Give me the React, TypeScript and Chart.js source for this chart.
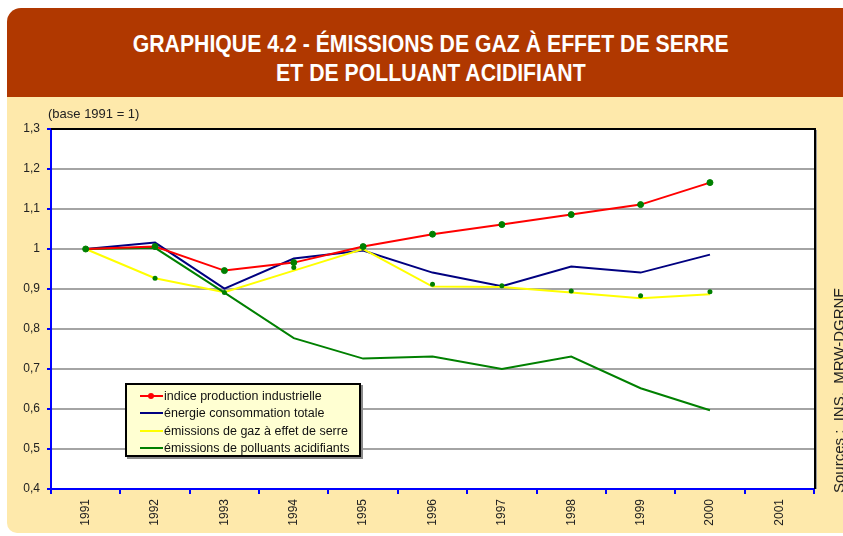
import React, { useEffect, useRef } from "react";
import { Chart, registerables } from "chart.js";

Chart.register(...registerables);

const years = ["1991", "1992", "1993", "1994", "1995", "1996", "1997", "1998", "1999", "2000", "2001"];
const indiceProduction = [1.0, 1.006, 0.946, 0.966, 1.006, 1.037, 1.061, 1.086, 1.111, 1.166, null];
const energieConsommation = [1.0, 1.016, 0.901, 0.976, 0.996, 0.941, 0.907, 0.956, 0.941, 0.986, null];
const emissionsGaz = [1.0, 0.927, 0.892, 0.946, 1.0, 0.906, 0.905, 0.891, 0.877, 0.887, null];
const emissionsPolluants = [1.0, 1.003, 0.891, 0.777, 0.726, 0.731, 0.7, 0.731, 0.652, 0.597, null];
const marqueursGaz = [null, 0.927, 0.891, 0.954, null, 0.912, 0.908, 0.895, 0.883, 0.893, null];
const yTicks = [0.4, 0.5, 0.6, 0.7, 0.8, 0.9, 1.0, 1.1, 1.2, 1.3];

const legendItems = [
  { label: "indice production industrielle", color: "#FF0000", dot: "#FF0000" },
  { label: "énergie consommation totale", color: "#000080", dot: null },
  { label: "émissions de gaz à effet de serre", color: "#FFFF00", dot: null },
  { label: "émissions de polluants acidifiants", color: "#008000", dot: null },
];

const fmt = (v: number) => String(Number(v.toFixed(1))).replace(".", ",");

export default function App() {
  const ref = useRef<HTMLCanvasElement | null>(null);

  useEffect(() => {
    if (!ref.current) return;
    const plotFrame = {
      id: "plotFrame",
      beforeDraw(chart: any) {
        const { ctx, chartArea: a } = chart;
        ctx.save();
        ctx.fillStyle = "#FFFFFF";
        ctx.fillRect(a.left, a.top, a.right - a.left, a.bottom - a.top);
        ctx.restore();
      },
      afterDraw(chart: any) {
        const { ctx, chartArea: a } = chart;
        ctx.save();
        ctx.strokeStyle = "#9a9a9a";
        ctx.lineWidth = 1;
        ctx.beginPath();
        ctx.moveTo(a.right + 2.5, a.top + 1);
        ctx.lineTo(a.right + 2.5, a.bottom);
        ctx.stroke();
        ctx.strokeStyle = "#000000";
        ctx.lineWidth = 2;
        ctx.beginPath();
        ctx.moveTo(a.left, a.top);
        ctx.lineTo(a.right + 1, a.top);
        ctx.lineTo(a.right + 1, a.bottom);
        ctx.stroke();
        ctx.restore();
      },
    };

    const chart = new Chart(ref.current, {
      type: "line",
      data: {
        labels: years,
        datasets: [
          {
            label: "marqueurs",
            data: marqueursGaz,
            showLine: false,
            pointRadius: 2.5,
            pointBackgroundColor: "#008000",
            pointBorderColor: "#008000",
            borderWidth: 0,
            order: 0,
          },
          {
            label: "indice production industrielle",
            data: indiceProduction,
            borderColor: "#FF0000",
            borderWidth: 2,
            pointRadius: 3,
            pointBackgroundColor: "#008000",
            pointBorderColor: "#008000",
            pointBorderWidth: 1,
            order: 1,
          },
          {
            label: "énergie consommation totale",
            data: energieConsommation,
            borderColor: "#000080",
            borderWidth: 2,
            pointRadius: 0,
            order: 4,
          },
          {
            label: "émissions de gaz à effet de serre",
            data: emissionsGaz,
            borderColor: "#FFFF00",
            borderWidth: 2,
            pointRadius: 0,
            order: 3,
          },
          {
            label: "émissions de polluants acidifiants",
            data: emissionsPolluants,
            borderColor: "#008000",
            borderWidth: 2,
            pointRadius: 0,
            order: 2,
          },
        ],
      },
      options: {
        animation: false,
        responsive: true,
        maintainAspectRatio: false,
        layout: { padding: { top: 129, right: 29, bottom: 0, left: 0 } },
        plugins: { legend: { display: false }, tooltip: { enabled: false }, title: { display: false } },
        elements: { line: { tension: 0 } },
        scales: {
          x: {
            type: "category",
            offset: true,
            grid: {
              offset: true,
              drawOnChartArea: false,
              drawTicks: true,
              tickLength: 5,
              tickColor: "#0000FF",
              color: "#0000FF",
              lineWidth: 2,
            },
            border: { color: "#0000FF", width: 2 },
            ticks: {
              minRotation: 90,
              maxRotation: 90,
              padding: 5,
              color: "#222222",
              font: { family: '"Liberation Sans", Arial, sans-serif', size: 12 },
            },
            afterFit: (s: any) => {
              s.height = 47;
            },
          },
          y: {
            min: 0.4,
            max: 1.3,
            afterBuildTicks: (s: any) => {
              s.ticks = yTicks.map((v) => ({ value: v }));
            },
            grid: {
              color: "#a4a4a4",
              lineWidth: 2,
              drawTicks: true,
              tickLength: 4,
              tickColor: "#0000FF",
            },
            border: { color: "#0000FF", width: 2 },
            ticks: {
              padding: 7,
              color: "#222222",
              font: { family: '"Liberation Sans", Arial, sans-serif', size: 12 },
              callback: (v: any) => fmt(Number(v)),
            },
            afterFit: (s: any) => {
              s.width = 51;
            },
          },
        },
      },
      plugins: [plotFrame],
    });
    return () => chart.destroy();
  }, []);

  const titleLine: React.CSSProperties = {
    display: "inline-block",
    transform: "scaleX(0.885)",
    transformOrigin: "50% 50%",
  };

  return (
    <div
      style={{
        position: "absolute",
        left: 0,
        top: 0,
        width: 843,
        height: 536,
        overflow: "hidden",
        background: "#FFFFFF",
        fontFamily: '"Liberation Sans", Arial, sans-serif',
      }}
    >
      <div
        style={{
          position: "absolute",
          left: 7,
          top: 8,
          width: 836,
          height: 89,
          background: "#B03800",
          borderTopLeftRadius: 14,
        }}
      />
      <div
        style={{
          position: "absolute",
          left: 19,
          top: 29,
          width: 824,
          textAlign: "center",
          color: "#FFFFFF",
          fontFamily: '"Liberation Sans Narrow", "Arial Narrow", "Liberation Sans", sans-serif',
          fontWeight: 700,
          fontSize: 24,
          lineHeight: "29px",
          whiteSpace: "nowrap",
        }}
      >
        <div>
          <span style={titleLine}>GRAPHIQUE 4.2 - ÉMISSIONS DE GAZ À EFFET DE SERRE</span>
        </div>
        <div>
          <span style={titleLine}>ET DE POLLUANT ACIDIFIANT</span>
        </div>
      </div>
      <div
        style={{
          position: "absolute",
          left: 7,
          top: 97,
          width: 836,
          height: 436,
          background: "#FEE9AB",
          borderBottomLeftRadius: 10,
        }}
      />
      <div style={{ position: "absolute", left: 0, top: 0, width: 843, height: 536 }}>
        <canvas ref={ref} />
      </div>
      <div
        style={{
          position: "absolute",
          left: 48,
          top: 106,
          fontSize: 13,
          lineHeight: "16px",
          color: "#222222",
          whiteSpace: "nowrap",
        }}
      >
        (base 1991 = 1)
      </div>
      <div
        style={{
          position: "absolute",
          left: 125,
          top: 383,
          width: 232,
          height: 68,
          border: "2px solid #000000",
          background: "#FFFFD2",
          boxShadow: "2px 2px 0 #8a8a8a",
          paddingTop: 2,
          boxSizing: "content-box",
        }}
      >
        {legendItems.map((it) => (
          <div
            key={it.label}
            style={{ position: "relative", height: 17.5, display: "flex", alignItems: "center" }}
          >
            <div style={{ position: "relative", width: 23, marginLeft: 13, height: 2, background: it.color }}>
              {it.dot ? (
                <div
                  style={{
                    position: "absolute",
                    left: 8,
                    top: -2,
                    width: 6,
                    height: 6,
                    borderRadius: 3,
                    background: it.dot,
                  }}
                />
              ) : null}
            </div>
            <span style={{ fontSize: 12.5, color: "#111111", marginLeft: 1, whiteSpace: "nowrap" }}>{it.label}</span>
          </div>
        ))}
      </div>
      <div
        style={{
          position: "absolute",
          left: 831,
          top: 493,
          transformOrigin: "0 0",
          transform: "rotate(-90deg)",
          fontSize: 15,
          lineHeight: "16px",
          color: "#222222",
          whiteSpace: "pre",
        }}
      >
        {"Sources :  INS,  MRW-DGRNE"}
      </div>
    </div>
  );
}
